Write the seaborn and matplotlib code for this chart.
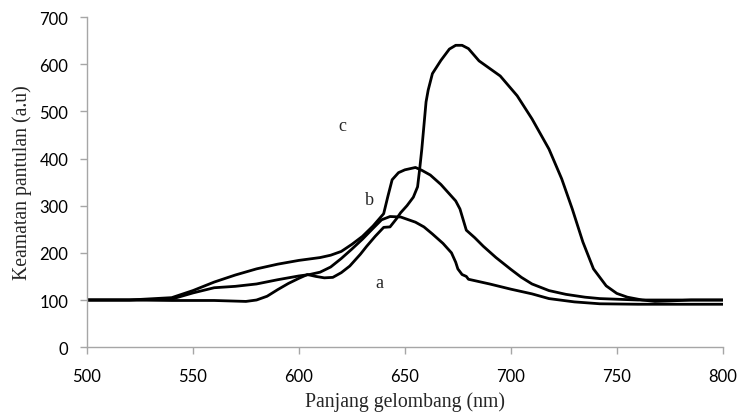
import pandas as pd
import seaborn as sns
import matplotlib.pyplot as plt

wl_a = [500, 520, 540, 550, 560, 570, 580, 590, 600, 605, 610, 615, 620, 625, 630, 635, 639, 643,
        648, 655, 659, 663, 668, 672, 674, 675, 677, 679, 680, 690, 700, 710, 718, 730, 742, 760, 800]
val_a = [100, 100, 102, 115, 126, 129, 134, 143, 151, 154, 159, 170, 188, 208, 229, 252, 270, 277,
         276, 265, 255, 240, 220, 200, 180, 166, 154, 150, 144, 134, 123, 113, 103, 96, 92, 91, 91]

wl_b = [500, 520, 540, 550, 560, 570, 580, 590, 600, 610, 615, 620, 625, 630, 635, 640, 642, 644,
        647, 650, 655, 658, 662, 667, 671, 674, 676, 679, 683, 687, 693, 700, 705, 710, 718, 726,
        735, 742, 760, 780, 800]
val_b = [100, 100, 105, 120, 138, 153, 166, 176, 184, 190, 195, 203, 218, 235, 257, 283, 320, 355,
         370, 376, 381, 375, 365, 345, 325, 310, 293, 248, 232, 214, 190, 165, 148, 134, 120, 112,
         106, 103, 100, 100, 100]

wl_c = [500, 520, 540, 560, 575, 580, 585, 590, 595, 600, 604, 608, 612, 616, 620, 624, 629, 632,
        636, 640, 643, 646, 648, 651, 654, 656, 657, 658, 659, 660, 661, 663, 667, 671, 674, 677,
        680, 685, 695, 703, 710, 718, 724, 729, 734, 739, 745, 750, 755, 762, 768, 775, 785, 800]
val_c = [100, 100, 99, 99, 97, 100, 108, 122, 135, 146, 154, 150, 147, 148, 158, 172, 197, 214,
         235, 254, 255, 272, 285, 300, 318, 340, 378, 420, 470, 520, 545, 580, 608, 632, 640, 640,
         633, 607, 575, 533, 484, 420, 357, 293, 223, 166, 130, 114, 106, 100, 97, 98, 100, 100]

curve_names = ['a', 'b', 'c']
label_x = [638, 633.5, 620.3]
label_y = [138, 314, 471]

df = pd.concat([
    pd.DataFrame({'wl': wl_a, 'val': val_a, 'curve': 'a'}),
    pd.DataFrame({'wl': wl_b, 'val': val_b, 'curve': 'b'}),
    pd.DataFrame({'wl': wl_c, 'val': val_c, 'curve': 'c'}),
])

sns.set_style('white')
plt.rcParams['font.family'] = ['Lato', 'DejaVu Sans']

fig = plt.figure(figsize=(7.39, 4.14), dpi=100)
ax = fig.add_axes([0.1177, 0.159, 0.8603, 0.7975])

sns.lineplot(data=df, x='wl', y='val', hue='curve', units='curve', estimator=None, sort=False,
             palette=['black', 'black', 'black'], linewidth=2.0, legend=False, ax=ax)

for name, lx, ly in zip(curve_names, label_x, label_y):
    ax.text(lx, ly, name, ha='center', va='center', fontsize=13, family='Liberation Serif')

ax.set_xlim(500, 800)
ax.set_ylim(0, 700)
ax.set_xticks(range(500, 801, 50))
ax.set_yticks(range(0, 701, 100))

gray = '#a6a6a6'
sns.despine(ax=ax)
for s in ['left', 'bottom']:
    ax.spines[s].set_color(gray)
    ax.spines[s].set_linewidth(1.0)
ax.tick_params(axis='both', direction='out', length=5, width=1.0, color=gray,
               labelsize=12, labelcolor='black', left=True, bottom=True)
ax.tick_params(axis='x', pad=10)
ax.tick_params(axis='y', pad=8.5)

# reference cuts the descenders off; keep it just inside the canvas
ax.set_xlabel('Panjang gelombang (nm)', family='Liberation Serif', fontsize=14.2, labelpad=5.5)
ax.set_ylabel('Keamatan pantulan (a.u)', family='Liberation Serif', fontsize=14.2, labelpad=5)

fig.savefig('out.png', dpi=100)
